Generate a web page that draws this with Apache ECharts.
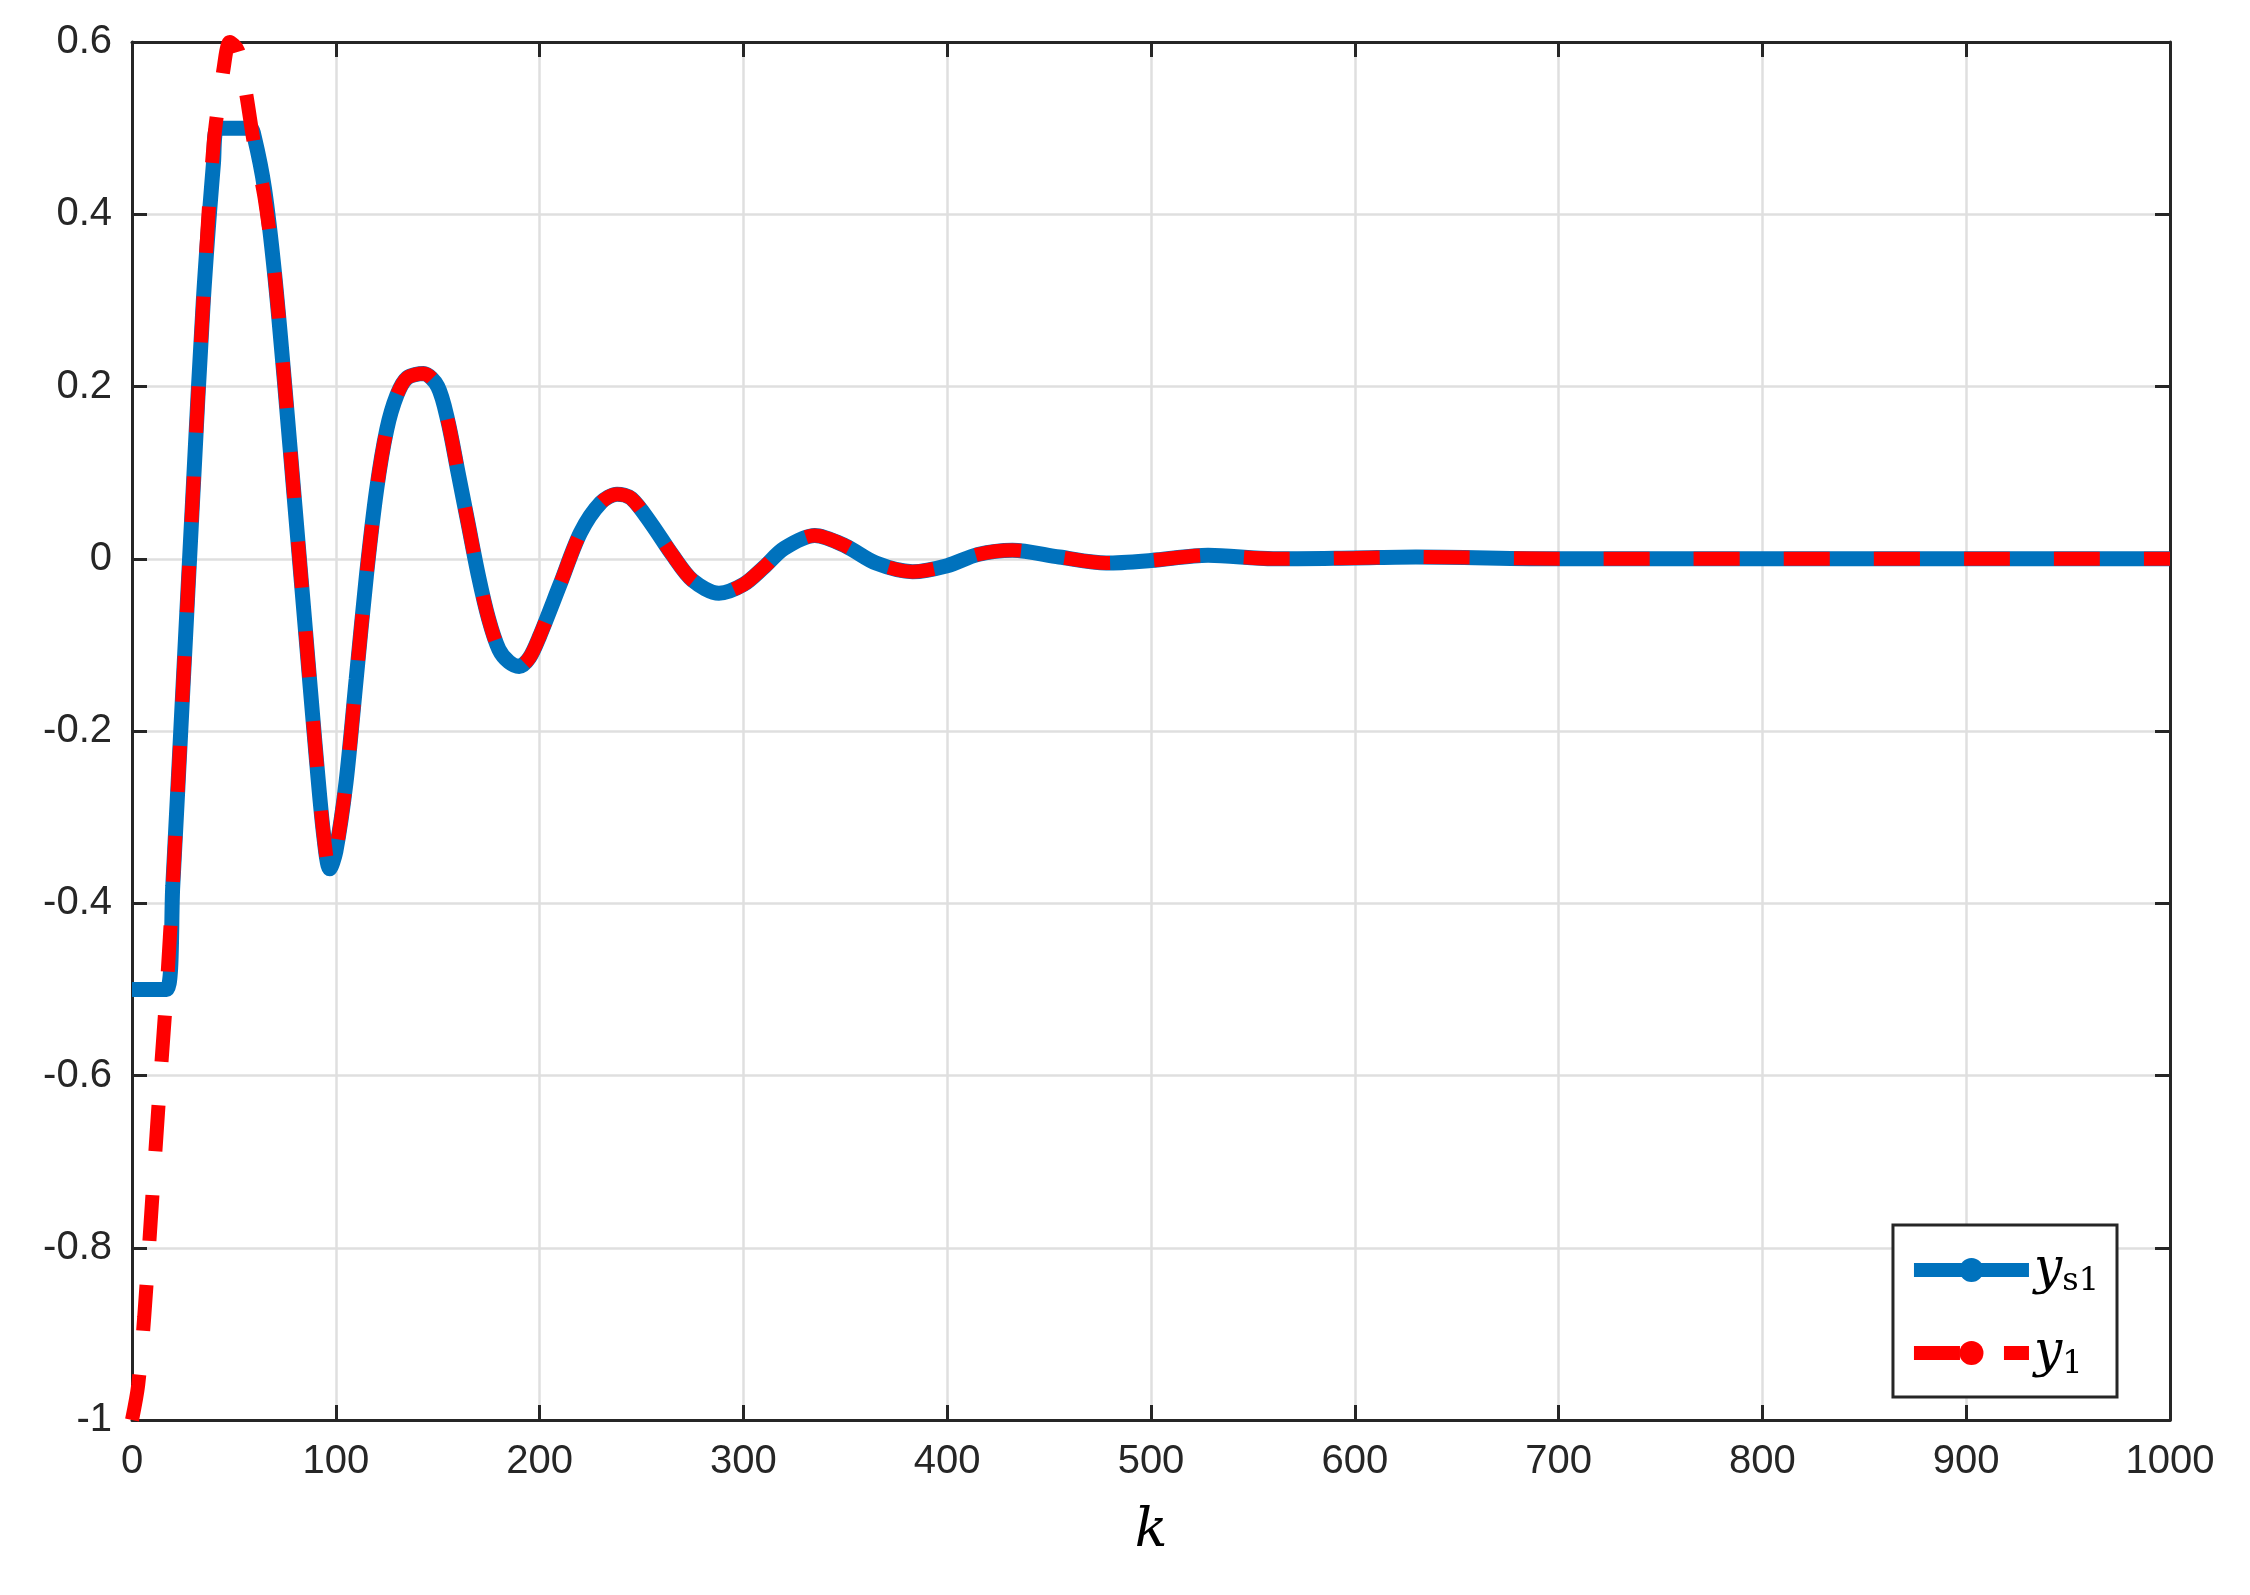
<!DOCTYPE html>
<html>
<head>
<meta charset="utf-8">
<title>ys1 / y1</title>
<script src="https://cdn.jsdelivr.net/npm/echarts@6/dist/echarts.min.js"></script>
<style>
  html,body{margin:0;padding:0;background:#fff;}
  #chart{width:2250px;height:1595px;}
</style>
</head>
<body>
<div id="chart"></div>
<script>
// y_s1 (saturated reference)
var ks1 = [0,17,20,25,30,35,40,42,58,60,65,70,75,80,85,90,94,97,100,105,110,115,120,125,130,135,143,150,155,160,165,170,175,180,185,190,195,200,210,220,230,238,245,255,265,275,288,300,310,320,335,350,365,383,400,415,432,455,478,500,528,560,600,630,700,1000];
var ys1 = [-0.5,-0.5,-0.38,-0.15,0.08,0.3,0.46,0.5,0.5,0.49,0.43,0.33,0.2,0.06,-0.08,-0.22,-0.32,-0.36,-0.34,-0.26,-0.14,-0.02,0.08,0.15,0.19,0.21,0.215,0.2,0.16,0.1,0.04,-0.02,-0.07,-0.105,-0.12,-0.125,-0.115,-0.09,-0.03,0.03,0.065,0.075,0.07,0.04,0.005,-0.025,-0.04,-0.03,-0.01,0.012,0.027,0.015,-0.005,-0.015,-0.008,0.005,0.01,0.002,-0.005,-0.002,0.004,0,0.001,0.002,0,0];
// y1 (output)
var k1 = [0,3,6,10,14,17,20,25,30,35,40,45,48,52,56,60,65,70,75,80,85,90,94,97,100,105,110,115,120,125,130,135,143,150,155,160,165,170,175,180,185,190,195,200,210,220,230,238,245,255,265,275,288,300,310,320,335,350,365,383,400,415,432,455,478,500,528,560,600,630,700,1000];
var y1 = [-1,-0.96,-0.88,-0.74,-0.6,-0.5,-0.38,-0.15,0.08,0.3,0.48,0.57,0.6,0.59,0.54,0.48,0.42,0.33,0.2,0.06,-0.08,-0.22,-0.32,-0.36,-0.34,-0.26,-0.14,-0.02,0.08,0.15,0.19,0.21,0.215,0.2,0.16,0.1,0.04,-0.02,-0.07,-0.105,-0.12,-0.125,-0.115,-0.09,-0.03,0.03,0.065,0.075,0.07,0.04,0.005,-0.025,-0.04,-0.03,-0.01,0.012,0.027,0.015,-0.005,-0.015,-0.008,0.005,0.01,0.002,-0.005,-0.002,0.004,0,0.001,0.002,0,0];

function pairs(xs, vs){
  var out = [];
  for (var i = 0; i < xs.length; i++) out.push([xs[i], vs[i]]);
  return out;
}

var axisCol = '#262626';
var myChart = echarts.init(document.getElementById('chart'));
var option = {
  animation: false,
  grid: { left: 132, right: 80, top: 42, bottom: 175, show: false },
  legend: {
    right: 133, bottom: 198,
    orient: 'vertical',
    backgroundColor: '#fff',
    borderColor: axisCol, borderWidth: 3, borderRadius: 0,
    padding: [20, 18, 16, 14],
    itemWidth: 115, itemHeight: 30, itemGap: 30,
    lineStyle: { width: 14 },
    data: ['ys1', 'y1'],
    formatter: function(n){ return n === 'ys1' ? '{m|y}{s|s1}' : '{m|y}{s|1}'; },
    textStyle: {
      rich: {
        m: { fontFamily: 'DejaVu Serif', fontStyle: 'italic', fontSize: 50, color: '#000' },
        s: { fontFamily: 'DejaVu Serif', fontSize: 32, color: '#000', verticalAlign: 'bottom', padding: [24,0,0,0] }
      }
    }
  },
  xAxis: [{
    type: 'value', min: 0, max: 1000, interval: 100,
    name: 'k', nameLocation: 'middle', nameGap: 85,
    nameTextStyle: { fontFamily: 'DejaVu Serif', fontStyle: 'italic', fontSize: 54, color: '#000' },
    axisLine: { onZero: false, lineStyle: { color: axisCol, width: 3 } },
    axisTick: { inside: true, length: 15, lineStyle: { color: axisCol, width: 3 } },
    axisLabel: { fontFamily: 'Liberation Sans', fontSize: 40, color: axisCol, margin: 22,
      formatter: function(v){ return String(v); } },
    splitLine: { lineStyle: { color: '#dfdfdf', width: 2.5 } }
  }, {
    type: 'value', min: 0, max: 1000, interval: 100, position: 'top',
    axisLine: { onZero: false, lineStyle: { color: axisCol, width: 3 } },
    axisTick: { inside: true, length: 15, lineStyle: { color: axisCol, width: 3 } },
    axisLabel: { show: false }, splitLine: { show: false }
  }],
  yAxis: [{
    type: 'value', min: -1, max: 0.6, interval: 0.2,
    axisLine: { show: true, onZero: false, lineStyle: { color: axisCol, width: 3 } },
    axisTick: { show: true, inside: true, length: 15, lineStyle: { color: axisCol, width: 3 } },
    axisLabel: { fontFamily: 'Liberation Sans', fontSize: 40, color: axisCol, margin: 20,
      formatter: function(v){ return String(Math.round(v*10)/10); } },
    splitLine: { lineStyle: { color: '#dfdfdf', width: 2.5 } }
  }, {
    type: 'value', min: -1, max: 0.6, interval: 0.2, position: 'right',
    axisLine: { show: true, onZero: false, lineStyle: { color: axisCol, width: 3 } },
    axisTick: { show: true, inside: true, length: 15, lineStyle: { color: axisCol, width: 3 } },
    axisLabel: { show: false }, splitLine: { show: false }
  }],
  series: [{
    name: 'ys1', type: 'line', smooth: 0.3, symbol: 'none',
    data: pairs(ks1, ys1),
    lineStyle: { color: '#0072bd', width: 15 },
    itemStyle: { color: '#0072bd' }
  }, {
    name: 'y1', type: 'line', smooth: 0.3, symbol: 'none',
    data: pairs(k1, y1),
    lineStyle: { color: '#ff0000', width: 14, type: [46, 44] },
    itemStyle: { color: '#ff0000' }
  }]
};
myChart.setOption(option);
</script>
</body>
</html>
